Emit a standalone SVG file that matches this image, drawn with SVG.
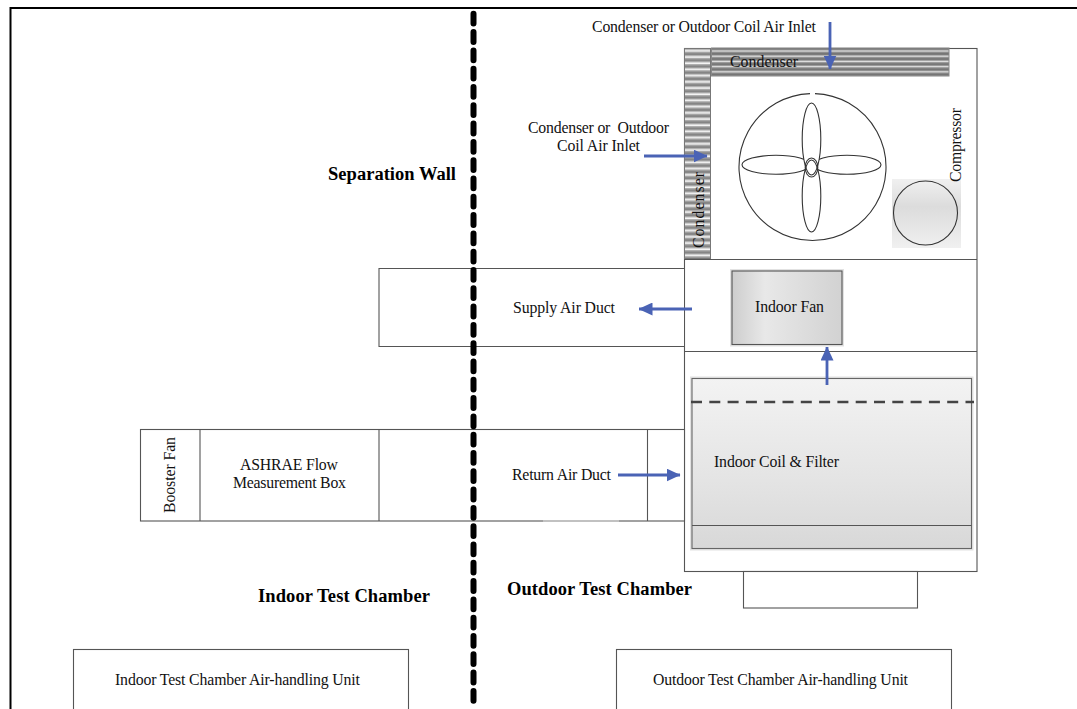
<svg xmlns="http://www.w3.org/2000/svg" width="1077" height="709" viewBox="0 0 1077 709">
<style>
text{font-family:"Liberation Serif","Times New Roman",serif;font-size:15.800px;fill:#111}
.b{font-weight:bold;font-size:18.500px;fill:#000}
.box{fill:#fff;stroke:#555;stroke-width:1.100}
.ln{fill:none;stroke:#555;stroke-width:1.100}
.fan{fill:none;stroke:#333;stroke-width:1.100}
.blade{fill:#fff;stroke:none}
.halo{fill:none;stroke:#e2e2e2;stroke-width:4}
.arr{fill:none;stroke:#4a63b5;stroke-width:2.800;marker-end:url(#ah)}
</style>
<defs>
<marker id="ah" viewBox="0 0 14 13" refX="13.500" refY="6.500" markerWidth="14" markerHeight="13" markerUnits="userSpaceOnUse" orient="auto"><path d="M0,0L14,6.500L0,13z" fill="#4a63b5"/></marker>
<pattern id="sp" width="8" height="6.200" patternUnits="userSpaceOnUse" y="48"><rect width="8" height="6.200" fill="#858585"/><rect y="1" width="8" height="1" fill="#b8b8b8"/><rect y="2" width="8" height="1.800" fill="#f4f4f4"/><rect y="3.800" width="8" height="1" fill="#b8b8b8"/></pattern>
<pattern id="st" width="8" height="5.200" patternUnits="userSpaceOnUse" y="48"><rect width="8" height="5.200" fill="#747474"/><rect y="1.600" width="8" height="1" fill="#a8a8a8"/><rect y="2.600" width="8" height="1" fill="#e2e2e2"/><rect y="3.600" width="8" height="1" fill="#a8a8a8"/></pattern>
<linearGradient id="gf" x1="0" x2="1" y1="0" y2="0"><stop offset="0" stop-color="#cdcdcd"/><stop offset=".3" stop-color="#e8e8e8"/><stop offset="1" stop-color="#d2d2d2"/></linearGradient>
<linearGradient id="gc" x1="0" x2="0" y1="0" y2="1"><stop offset="0" stop-color="#f3f3f3"/><stop offset=".6" stop-color="#e4e4e4"/><stop offset="1" stop-color="#d8d8d8"/></linearGradient>
<linearGradient id="gk" x1="0" x2="0" y1="0" y2="1"><stop offset="0" stop-color="#f0f0f0"/><stop offset=".4" stop-color="#dcdcdc"/><stop offset="1" stop-color="#f0f0f0"/></linearGradient>
</defs>
<rect width="1077" height="709" fill="#fff"/>
<g id="frame"><path d="M10.500,709V8H1077" fill="none" stroke="#000" stroke-width="2"/></g>
<g id="unit-body"><rect class="box" x="684.500" y="48.500" width="292.500" height="523"/><path class="ln" d="M684.500,259.500H977M684.500,351.500H977"/></g>
<g id="supply-duct"><path class="box" d="M684,268.500H379V346.500H684"/><text x="513" y="313" textLength="102">Supply Air Duct</text></g>
<g id="return-duct"><rect class="box" x="140.500" y="429.500" width="544" height="91.500"/><path class="ln" d="M200,429.500V521M379,429.500V521M647.500,429.500V521"/><path d="M543,521H619" stroke="#ccc" stroke-width="1.400"/><text x="512" y="480" textLength="99">Return Air Duct</text></g>
<g id="booster-fan"><text transform="translate(174.500,513) rotate(-90)" textLength="76">Booster Fan</text></g>
<g id="flow-box"><text x="240" y="470" textLength="98">ASHRAE Flow</text><text x="233" y="488" textLength="113">Measurement Box</text></g>
<g id="condenser-top"><rect x="711.500" y="48" width="237.500" height="28" fill="url(#st)" stroke="#888"/><text x="730" y="67" textLength="68">Condenser</text></g>
<g id="condenser-left"><rect x="684.500" y="48.500" width="26" height="210" fill="url(#sp)" stroke="#777"/><text transform="translate(703.500,248) rotate(-90)" textLength="76">Condenser</text></g>
<g id="fan"><path class="fan" d="M815,93.600A73.500,73.500 0 1 1 810,93.600"/>
<ellipse class="fan" cx="776" cy="164.800" rx="34" ry="9.500"/><ellipse class="fan" cx="847" cy="164.800" rx="34" ry="9.500"/>
<ellipse class="blade" cx="811.500" cy="139" rx="9.300" ry="36"/><ellipse class="blade" cx="811.500" cy="196" rx="9.300" ry="36"/>
<ellipse class="fan" cx="811.500" cy="139" rx="9.300" ry="36"/><ellipse class="fan" cx="811.500" cy="196" rx="9.300" ry="36"/><ellipse class="fan" cx="811.500" cy="167.500" rx="6.300" ry="9.500"/></g>
<g id="compressor"><rect x="892" y="179" width="69" height="69" fill="url(#gk)"/><circle cx="925.500" cy="213" r="32" fill="none" stroke="#333" stroke-width="1.100"/><text transform="translate(961,182) rotate(-90)" textLength="74">Compressor</text></g>
<g id="indoor-fan"><rect class="halo" x="732" y="271" width="110" height="73.500"/><rect x="732" y="271" width="110" height="73.500" fill="url(#gf)" stroke="#555" stroke-width="1.100"/><text x="755" y="312" textLength="69">Indoor Fan</text></g>
<g id="indoor-coil"><rect class="halo" x="692" y="378.500" width="279.500" height="170"/><rect x="692" y="378.500" width="279.500" height="170" fill="url(#gc)" stroke="#666" stroke-width="1.100"/><path class="ln" d="M692,525.500H971.500"/><path d="M691,402H974" fill="none" stroke="#444" stroke-width="2.600" stroke-dasharray="11 7.300"/><text x="714" y="467" textLength="125">Indoor Coil &amp; Filter</text></g>
<g id="lower-box"><rect class="box" x="743.500" y="571.500" width="174" height="36.500"/></g>
<g id="indoor-ahu"><rect class="box" x="73.500" y="649.500" width="335" height="62"/><text x="115" y="685" textLength="245">Indoor Test Chamber Air-handling Unit</text></g>
<g id="outdoor-ahu"><rect class="box" x="616.500" y="649.500" width="335" height="62"/><text x="653" y="685" textLength="255">Outdoor Test Chamber Air-handling Unit</text></g>
<g id="separation-wall"><path d="M473.500,13.800V706" fill="none" stroke="#000" stroke-width="6" stroke-linecap="round" stroke-dasharray="9.800 8.500"/><text class="b" x="328" y="180" textLength="128">Separation Wall</text></g>
<g id="labels"><text x="592" y="32" textLength="224">Condenser or Outdoor Coil Air Inlet</text><text x="528" y="133" textLength="141" xml:space="preserve">Condenser or  Outdoor</text><text x="557" y="151" textLength="83">Coil Air Inlet</text><text class="b" x="258" y="602" textLength="172">Indoor Test Chamber</text><text class="b" x="507" y="595" textLength="185">Outdoor Test Chamber</text></g>
<g id="connectors">
<path class="arr" d="M830,22V69"/><path class="arr" d="M644,156H707"/><path class="arr" d="M692,309H639"/><path class="arr" d="M827,385V347"/><path class="arr" d="M618,475H680"/>
</g>
</svg>
